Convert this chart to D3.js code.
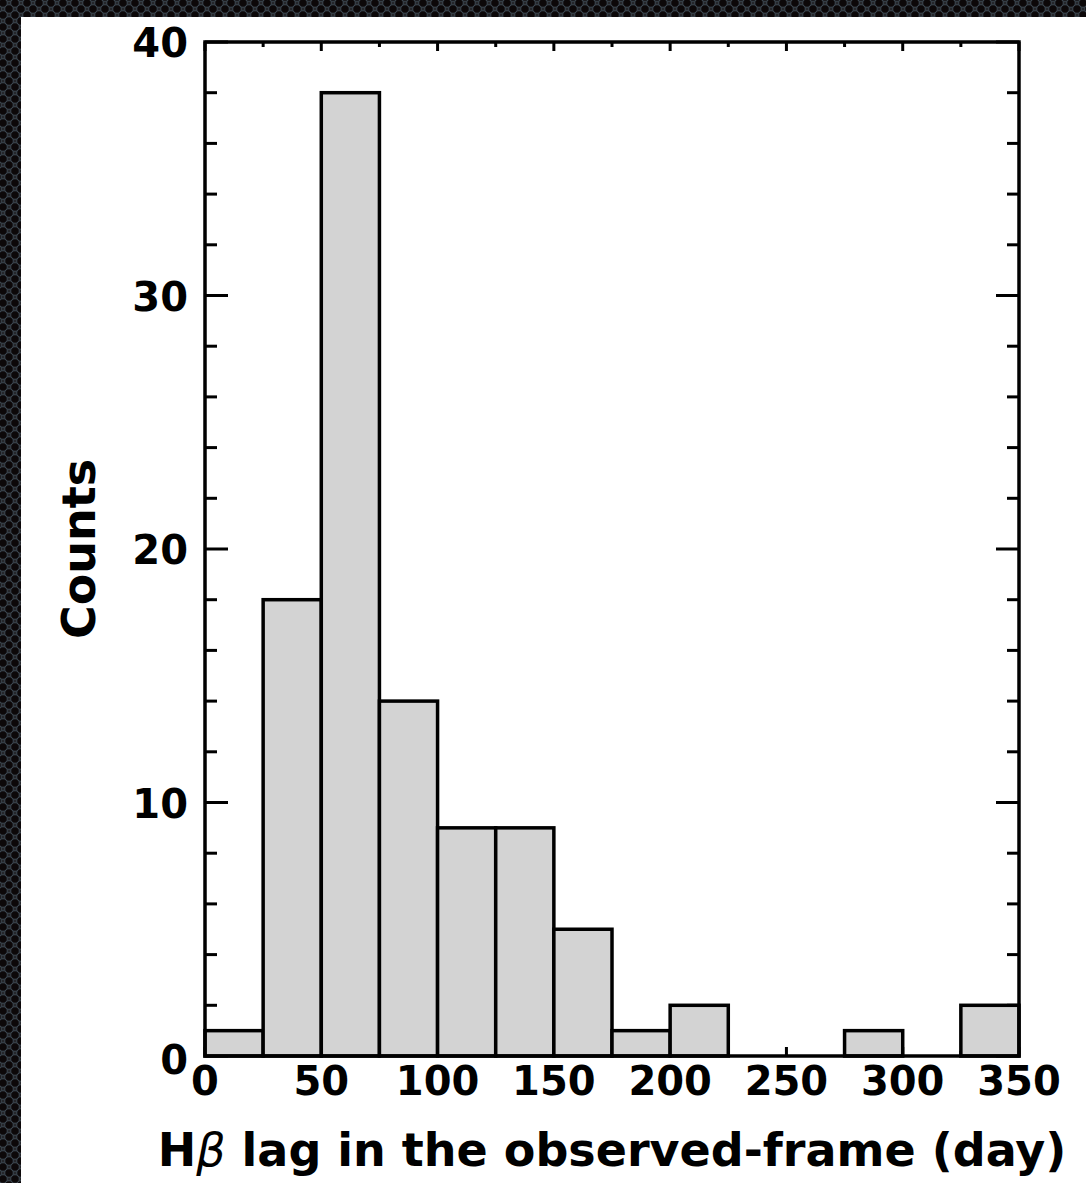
<!DOCTYPE html>
<html>
<head>
<meta charset="utf-8">
<script src="https://cdn.jsdelivr.net/npm/d3@7"></script>
<style>
  html, body { margin: 0; padding: 0; background: #1b181a; }
  svg { display: block; }
</style>
</head>
<body>
<svg width="1086" height="1183"></svg>
<script>
var binStarts = [0, 25, 50, 75, 100, 125, 150, 175, 200, 225, 250, 275, 300, 325];
var binWidth = 25;
var counts = [1, 18, 38, 14, 9, 9, 5, 1, 2, 0, 0, 1, 0, 2];
var xTickLabels = [0, 50, 100, 150, 200, 250, 300, 350];
var yTickLabels = [0, 10, 20, 30, 40];

var svg = d3.select('svg');
var W = 1086, H = 1183;
var plotL = 205, plotT = 42, plotR = 1019, plotB = 1056;
var font = 'DejaVu Sans';

// dark perforated backdrop
var defs = svg.append('defs');
var pat = defs.append('pattern')
    .attr('id', 'holes')
    .attr('width', 12).attr('height', 12)
    .attr('patternUnits', 'userSpaceOnUse');
pat.append('rect').attr('width', 12).attr('height', 12).attr('fill', '#26272b');
[[3, 3], [9, 9], [9, -3], [-3, 9], [15, 3], [3, 15]].forEach(function(p){
    pat.append('circle')
        .attr('cx', p[0]).attr('cy', p[1]).attr('r', 4.3)
        .attr('fill', '#0c0809')
        .attr('stroke', '#3c4852')
        .attr('stroke-width', 1);
});
svg.append('rect').attr('width', W).attr('height', H).attr('fill', 'url(#holes)');
svg.append('rect').attr('x', 21).attr('y', 17).attr('width', W - 21).attr('height', H - 17).attr('fill', '#fff');

var x = d3.scaleLinear().domain([0, 350]).range([plotL, plotR]);
var y = d3.scaleLinear().domain([0, 40]).range([plotB, plotT]);

// ticks (drawn first so bar edges cover them like in the original)
var ticks = svg.append('g').attr('stroke', '#000').attr('stroke-width', 3);
d3.range(0, 351, 25).forEach(function(v){
    var len = v % 50 === 0 ? 9 : 5;
    ticks.append('line').attr('x1', x(v)).attr('x2', x(v)).attr('y1', plotB).attr('y2', plotB - len);
    ticks.append('line').attr('x1', x(v)).attr('x2', x(v)).attr('y1', plotT).attr('y2', plotT + len);
});
d3.range(0, 41, 2).forEach(function(v){
    var len = v % 10 === 0 ? 23 : 12;
    ticks.append('line').attr('x1', plotL).attr('x2', plotL + len).attr('y1', y(v)).attr('y2', y(v));
    ticks.append('line').attr('x1', plotR).attr('x2', plotR - len).attr('y1', y(v)).attr('y2', y(v));
});

// bars
svg.selectAll('rect.bar')
    .data(binStarts).enter()
    .append('rect')
    .attr('class', 'bar')
    .attr('x', function(d){ return x(d); })
    .attr('width', function(d){ return x(d + binWidth) - x(d); })
    .attr('y', function(d, i){ return y(counts[i]); })
    .attr('height', function(d, i){ return y(0) - y(counts[i]); })
    .attr('fill', '#d3d3d3')
    .attr('stroke', '#000')
    .attr('stroke-width', 3.5)
    .style('display', function(d, i){ return counts[i] > 0 ? null : 'none'; });

// frame
svg.append('rect')
    .attr('x', plotL).attr('y', plotT)
    .attr('width', plotR - plotL).attr('height', plotB - plotT)
    .attr('fill', 'none').attr('stroke', '#000').attr('stroke-width', 3.5);

// tick labels
svg.selectAll('text.xl')
    .data(xTickLabels).enter()
    .append('text')
    .attr('x', function(d){ return x(d); })
    .attr('y', 1095)
    .attr('text-anchor', 'middle')
    .attr('font-family', font).attr('font-weight', 'bold').attr('font-size', 40)
    .text(function(d){ return d; });

svg.selectAll('text.yl')
    .data(yTickLabels).enter()
    .append('text')
    .attr('x', 188)
    .attr('y', function(d){ return y(d) + (d === 0 ? 18 : 15); })
    .attr('text-anchor', 'end')
    .attr('font-family', font).attr('font-weight', 'bold').attr('font-size', 40)
    .text(function(d){ return d; });

// axis titles
var xt = svg.append('text')
    .attr('x', (plotL + plotR) / 2)
    .attr('y', 1166)
    .attr('text-anchor', 'middle')
    .attr('font-family', font).attr('font-weight', 'bold').attr('font-size', 46);
xt.append('tspan').text('H');
xt.append('tspan').attr('font-style', 'italic').attr('font-weight', 'normal').text('β');
xt.append('tspan').text(' lag in the observed-frame (day)');

svg.append('text')
    .attr('transform', 'translate(95,' + ((plotT + plotB) / 2) + ') rotate(-90)')
    .attr('text-anchor', 'middle')
    .attr('font-family', font).attr('font-weight', 'bold').attr('font-size', 46)
    .text('Counts');
</script>
</body>
</html>
